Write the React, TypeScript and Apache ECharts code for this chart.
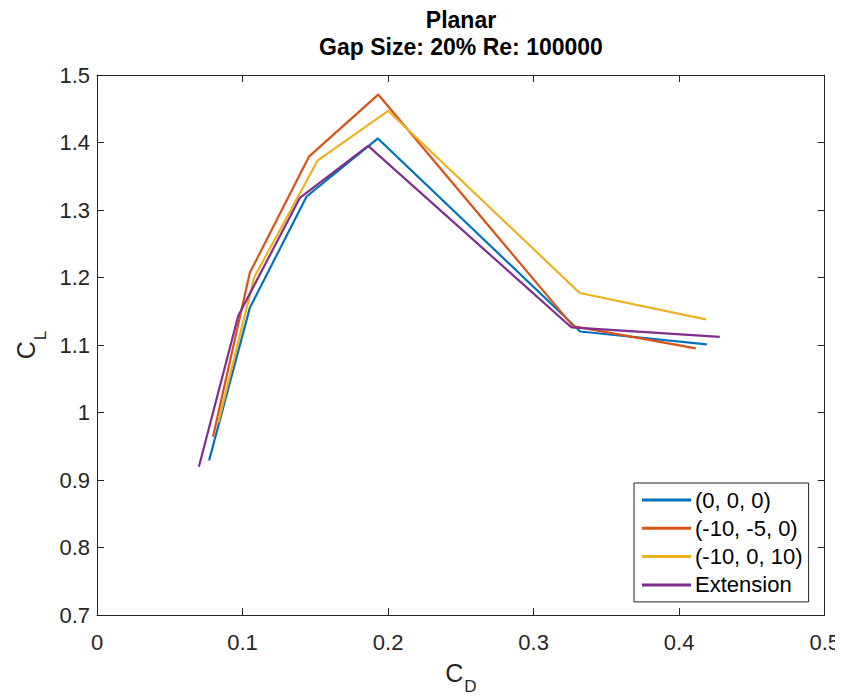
import React, { useEffect, useRef } from "react";
import * as echarts from "echarts";

const seriesNames = ["(0, 0, 0)", "(-10, -5, 0)", "(-10, 0, 10)", "Extension"];
const colors = ["#0072BD", "#D95319", "#EDB120", "#7E2F8E"];

const cd000 = [0.077, 0.105, 0.144, 0.193, 0.332, 0.419];
const cl000 = [0.929, 1.155, 1.32, 1.406, 1.12, 1.101];

const cdM10M5 = [0.0797, 0.105, 0.1456, 0.1932, 0.327, 0.4114];
const clM10M5 = [0.964, 1.207, 1.379, 1.471, 1.128, 1.095];

const cdM10P10 = [0.0833, 0.108, 0.1515, 0.2, 0.3317, 0.4183];
const clM10P10 = [0.985, 1.2, 1.373, 1.447, 1.177, 1.138];

const cdExt = [0.07, 0.097, 0.1394, 0.1863, 0.326, 0.4279];
const clExt = [0.9195, 1.143, 1.318, 1.395, 1.126, 1.112];

const xTicks = [0, 0.1, 0.2, 0.3, 0.4, 0.5];
const yTicks = [0.7, 0.8, 0.9, 1, 1.1, 1.2, 1.3, 1.4, 1.5];

const titleLines = ["Planar", "Gap Size: 20% Re: 100000"];

const allX = [cd000, cdM10M5, cdM10P10, cdExt];
const allY = [cl000, clM10M5, clM10P10, clExt];

export default function App() {
  const ref = useRef<HTMLDivElement>(null);
  useEffect(() => {
    if (!ref.current) return;
    const chart = echarts.init(ref.current, null, { renderer: "svg" });
    const axisColor = "#262626";
    const font = "Liberation Sans, Arial, sans-serif";
    const fmt = (v: number) => String(Number(v.toFixed(2)));
    const baseAxis = {
      axisLine: { show: true, onZero: false, lineStyle: { color: axisColor, width: 1 } },
      axisTick: { show: true, inside: true, length: 7, lineStyle: { color: axisColor } },
      splitLine: { show: false },
    };
    const nameRich = {
      a: { fontSize: 25, lineHeight: 25, color: axisColor, fontFamily: font, verticalAlign: "top" },
      b: { fontSize: 17, lineHeight: 17, color: axisColor, fontFamily: font, verticalAlign: "top", padding: [18, 0, 0, 1] },
    };
    const titleStyle = { fontSize: 23, fontWeight: "bold", color: "#000", lineHeight: 24, fontFamily: font };
    chart.setOption({
      animation: false,
      textStyle: { fontFamily: font },
      title: [
        { text: titleLines[0], left: 461, top: 8, padding: 0, textAlign: "center", textStyle: titleStyle },
        { text: titleLines[1], left: 461, top: 35, padding: 0, textAlign: "center", textStyle: titleStyle },
      ],
      grid: { left: 97, top: 75, width: 728, height: 542, containLabel: false },
      xAxis: [
        {
          ...baseAxis,
          type: "value",
          min: xTicks[0],
          max: xTicks[xTicks.length - 1],
          interval: 0.1,
          position: "bottom",
          name: "{a|C}{b|D}",
          nameLocation: "middle",
          nameGap: 45,
          nameTextStyle: { rich: nameRich },
          axisLabel: { fontSize: 22, color: axisColor, margin: 16, formatter: fmt },
        },
        {
          ...baseAxis,
          type: "value",
          min: xTicks[0],
          max: xTicks[xTicks.length - 1],
          interval: 0.1,
          position: "top",
          axisLabel: { show: false },
        },
      ],
      yAxis: [
        {
          ...baseAxis,
          type: "value",
          min: yTicks[0],
          max: yTicks[yTicks.length - 1],
          interval: 0.1,
          position: "left",
          name: "{a|C}{b|L}",
          nameLocation: "middle",
          nameGap: 53,
          nameRotate: 90,
          nameTextStyle: { rich: nameRich },
          axisLabel: { fontSize: 22, color: axisColor, margin: 7, formatter: fmt },
        },
        {
          ...baseAxis,
          type: "value",
          min: yTicks[0],
          max: yTicks[yTicks.length - 1],
          interval: 0.1,
          position: "right",
          axisLabel: { show: false },
        },
      ],
      legend: {
        orient: "vertical",
        left: 634,
        top: 483,
        padding: [6, 6, 6, 8],
        itemWidth: 49,
        itemHeight: 3,
        itemGap: 6.3,
        icon: "rect",
        backgroundColor: "#fff",
        borderColor: axisColor,
        borderWidth: 1,
        borderRadius: 0,
        textStyle: { fontSize: 22, color: "#000", lineHeight: 22, fontFamily: font, padding: [0, 0, 0, -1] },
        data: seriesNames,
      },
      series: seriesNames.map((name, i) => ({
        name,
        type: "line",
        symbol: "none",
        showSymbol: false,
        color: colors[i],
        lineStyle: { width: 2.2, color: colors[i] },
        data: allX[i].map((x, j) => [x, allY[i][j]]),
        z: 2 + i,
      })),
    });
    return () => chart.dispose();
  }, []);
  return <div ref={ref} style={{ width: 843, height: 700, margin: -8 }} />;
}
